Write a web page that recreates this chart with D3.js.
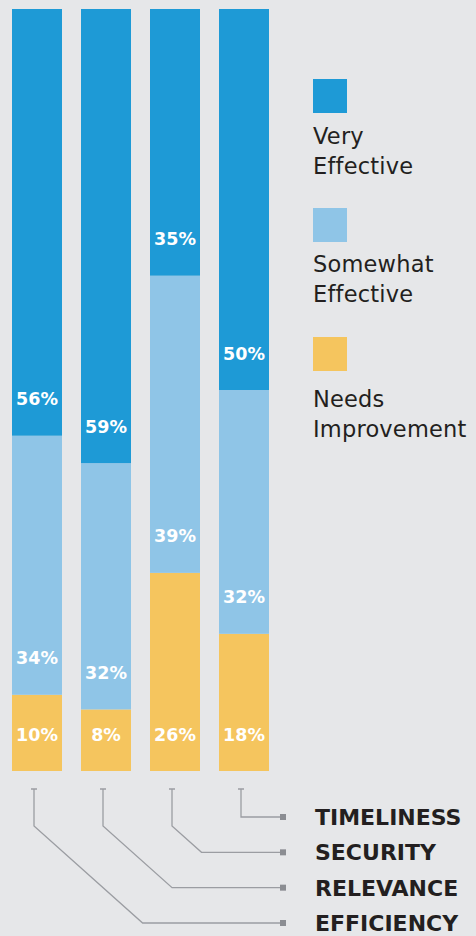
<!DOCTYPE html>
<html>
<head>
<meta charset="utf-8">
<script src="https://cdn.jsdelivr.net/npm/d3@7/dist/d3.min.js"></script>
<style>
  html, body { margin: 0; padding: 0; background: #e6e7e9; }
  svg { display: block; }
</style>
</head>
<body>
<svg id="chart" width="476" height="936"></svg>
<script>
// Survey ratings per area, in percent
const categories = ["EFFICIENCY", "RELEVANCE", "SECURITY", "TIMELINESS"];
const veryEffective = [56, 59, 35, 50];
const somewhatEffective = [34, 32, 39, 32];
const needsImprovement = [10, 8, 26, 18];

const seriesKeys = ["needs", "somewhat", "very"];
const colors = { very: "#1e9ad6", somewhat: "#8fc5e7", needs: "#f5c55e" };

const rows = categories.map((c, i) => ({
  category: c,
  needs: needsImprovement[i],
  somewhat: somewhatEffective[i],
  very: veryEffective[i]
}));

const svg = d3.select("#chart");
const W = 476, H = 936;
svg.append("rect").attr("width", W).attr("height", H).attr("fill", "#e6e7e9");

const x = d3.scaleBand()
  .domain(categories)
  .range([12, 269])
  .paddingInner(19 / 69)
  .paddingOuter(0);

const y = d3.scaleLinear().domain([0, 1]).range([771, 9]);

// Each bar fills the full height: shares of its own total
const stack = d3.stack().keys(seriesKeys).offset(d3.stackOffsetExpand);
const stacked = stack(rows);

const g = svg.append("g");

stacked.forEach(layer => {
  const key = layer.key;
  const lg = g.append("g").attr("class", "layer-" + key);
  lg.selectAll("rect")
    .data(layer)
    .join("rect")
    .attr("x", d => x(d.data.category))
    .attr("width", x.bandwidth())
    .attr("y", d => y(d[1]))
    .attr("height", d => y(d[0]) - y(d[1]))
    .attr("fill", colors[key]);

  lg.selectAll("text")
    .data(layer)
    .join("text")
    .attr("x", d => x(d.data.category) + x.bandwidth() / 2)
    .attr("y", d => y(d[0]) - 30.5)
    .attr("text-anchor", "middle")
    .attr("fill", "#ffffff")
    .attr("font-family", "DejaVu Sans, sans-serif")
    .attr("font-weight", "bold")
    .attr("font-size", 17.5)
    .text(d => d.data[key] + "%");
});

// Legend
const legendKeys = ["very", "somewhat", "needs"];
const legendLabels = ["Very\nEffective", "Somewhat\nEffective", "Needs\nImprovement"];
const legendTextGap = [65, 64, 70];
const legend = svg.append("g").attr("transform", "translate(313,0)");
legendKeys.forEach((k, i) => {
  const top = 79 + i * 129;
  legend.append("rect")
    .attr("x", 0).attr("y", top)
    .attr("width", 34).attr("height", 34)
    .attr("fill", colors[k]);
  const t = legend.append("text")
    .attr("font-family", "DejaVu Sans, sans-serif")
    .attr("font-size", 22.5)
    .attr("letter-spacing", 0.2)
    .attr("fill", "#231f20");
  legendLabels[i].split("\n").forEach((line, j) => {
    t.append("tspan").attr("x", 0).attr("y", top + legendTextGap[i] + j * 30).text(line);
  });
});

// Leader lines from each bar down to its name
const tickY = 789, bendY = 826, endX = 283, labelX = 315;
const rowY = d3.scalePoint()
  .domain(categories.slice().reverse())
  .range([817, 923]);

const lineColor = "#9b9da2";
const leaders = svg.append("g");
categories.forEach(c => {
  const cx = x(c) + x.bandwidth() / 2 - 3;
  const ry = rowY(c);
  const by = Math.min(bendY, ry);
  const pts = [[cx, tickY], [cx, by], [cx + (ry - by) * 1.12, ry], [endX, ry]];
  leaders.append("path")
    .attr("d", d3.line()(pts))
    .attr("fill", "none")
    .attr("stroke", lineColor)
    .attr("stroke-width", 1.3);
  leaders.append("line")
    .attr("x1", cx - 3).attr("x2", cx + 3)
    .attr("y1", tickY).attr("y2", tickY)
    .attr("stroke", lineColor).attr("stroke-width", 1.5);
  leaders.append("rect")
    .attr("x", endX - 3).attr("y", ry - 3)
    .attr("width", 6).attr("height", 6)
    .attr("fill", "#8b8d92");
  leaders.append("text")
    .attr("x", labelX).attr("y", ry + 8)
    .attr("font-family", "DejaVu Sans, sans-serif")
    .attr("font-weight", "bold")
    .attr("font-size", 22)
    .attr("fill", "#231f20")
    .text(c);
});
</script>
</body>
</html>
